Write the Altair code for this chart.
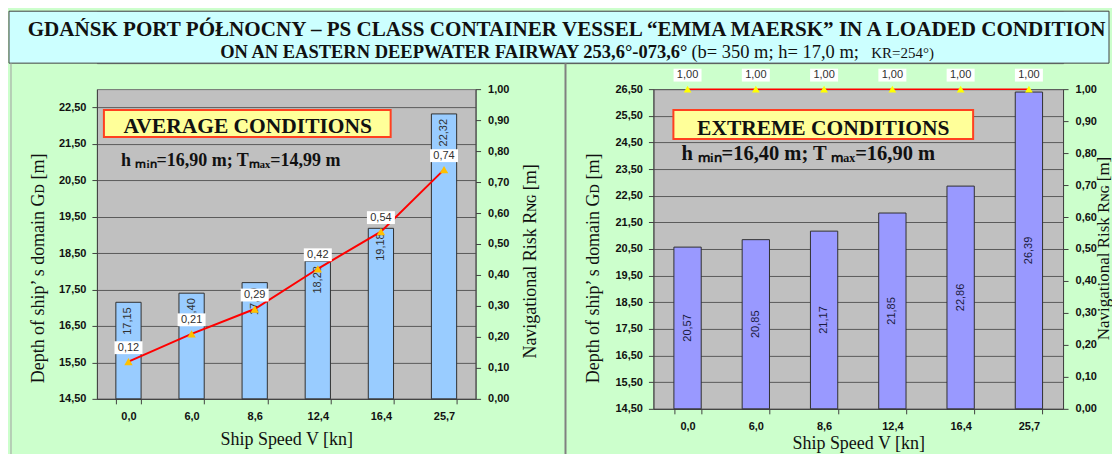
import altair as alt
import pandas as pd

# ---------------- data ----------------
speeds = ["0,0", "6,0", "8,6", "12,4", "16,4", "25,7"]
avg_depth = [17.15, 17.40, 17.69, 18.28, 19.18, 22.32]
avg_risk = [0.12, 0.21, 0.29, 0.42, 0.54, 0.74]
ext_depth = [20.57, 20.85, 21.17, 21.85, 22.86, 26.39]
ext_risk = [1.00, 1.00, 1.00, 1.00, 1.00, 1.00]

left_depth_domain = [14.5, 23.0]
right_depth_domain = [14.5, 26.5]
left_depth_ticks = [14.5, 15.5, 16.5, 17.5, 18.5, 19.5, 20.5, 21.5, 22.5]
right_depth_ticks = [14.5, 15.5, 16.5, 17.5, 18.5, 19.5, 20.5, 21.5, 22.5,
                     23.5, 24.5, 25.5, 26.5]
risk_ticks = [0.0, 0.1, 0.2, 0.3, 0.4, 0.5, 0.6, 0.7, 0.8, 0.9, 1.0]

title_line1 = "GDAŃSK PORT PÓŁNOCNY – PS CLASS CONTAINER VESSEL “EMMA MAERSK” IN A LOADED CONDITION"
title_line2a = "ON AN EASTERN DEEPWATER FAIRWAY 253,6°-073,6°"
title_line2b = "(b= 350 m; h= 17,0 m;"
title_line2c = "KR=254°)"

left_box_title = "AVERAGE CONDITIONS"
left_box_sub = "h ₘᵢₙ=16,90 m; Tₘₐₓ=14,99 m"
right_box_title = "EXTREME CONDITIONS"
right_box_sub = "h ₘᵢₙ=16,40 m; T ₘₐₓ=16,90 m"

x_title = "Ship Speed V [kn]"
y_title = "Depth of ship’ s domain Gᴅ [m]"
y2_title = "Navigational Risk Rɴɢ [m]"

SERIF = "Liberation Serif"
SANS = "Liberation Sans"
COMMA2 = "replace(format(datum.value, '.2f'), '.', ',')"
BOX_PATH = "M-1,-1.46L1,-1.46L1,-0.54L-1,-0.54Z"


def fmt2(v):
    return f"{v:.2f}".replace(".", ",")


one = pd.DataFrame({"k": [0]})


def make_panel(depth, risk, ydom, yticks, w, h, bar_color, tri_color, tri_size,
               line_w, centered, ytx, yty, y2tx, y2ty, y2size, xty,
               box, box_title, title_x, sub, sub_x, sub_y, sub_size,
               rule_x, rule_color, rule_w):
    df = pd.DataFrame({
        "speed": speeds,
        "depth": depth,
        "base": [ydom[0]] * len(depth),
        "risk": risk,
        "depth_mid": [(ydom[0] + v) / 2 for v in depth],
        "depth_lbl": [fmt2(v) for v in depth],
        "risk_lbl": [fmt2(v) for v in risk],
    })
    x = alt.X("speed:N", sort=speeds,
              scale=alt.Scale(paddingInner=0.6, paddingOuter=0.3),
              axis=alt.Axis(title=x_title, labelAngle=0, tickBand="extent",
                            grid=False, labelPadding=7, titleY=xty,
                            titleBaseline="alphabetic"))
    depth_axis = alt.Axis(values=yticks, tickCount=len(yticks), labelExpr=COMMA2,
                          title=y_title, titleAngle=270, titleX=ytx, titleY=yty,
                          titleAlign="center", titleBaseline="middle",
                          grid=True, labelPadding=6, labelOverlap=False)
    depth_scale = alt.Scale(domain=ydom, nice=False, zero=False)
    yd = alt.Y("depth:Q", scale=depth_scale, axis=depth_axis)
    yr = alt.Y("risk:Q",
               scale=alt.Scale(domain=[0, 1], nice=False),
               axis=alt.Axis(orient="right", values=risk_ticks,
                             tickCount=len(risk_ticks), labelExpr=COMMA2,
                             title=y2_title, titleAngle=270, titleX=y2tx,
                             titleY=y2ty, titleAlign="center",
                             titleFontSize=y2size,
                             titleBaseline="middle", grid=False, labelPadding=7,
                             labelOverlap=False))
    base = alt.Chart(df)
    bars = base.mark_bar(color=bar_color, stroke="#303030", strokeWidth=1).encode(
        x=x, y=yd, y2="base:Q")
    if centered:
        blabels = base.mark_text(angle=270, align="center", baseline="middle",
                                 font=SANS, fontSize=11, color="#1a1a40").encode(
            x=x, y=alt.Y("depth_mid:Q", scale=depth_scale, axis=depth_axis),
            text="depth_lbl:N")
    else:
        blabels = base.mark_text(angle=270, align="right", baseline="middle",
                                 yOffset=5, font=SANS, fontSize=11,
                                 color="#303030").encode(
            x=x, y=yd, text="depth_lbl:N")

    rect = alt.Chart(one).mark_rect(fill="#FFFF99", stroke="#FF4020",
                                    strokeWidth=2).encode(
        x=alt.value(box[0]), x2=alt.value(box[1]),
        y=alt.value(box[2]), y2=alt.value(box[3]))
    rtxt = alt.Chart(one).mark_text(text=box_title, font=SERIF, fontSize=21.5,
                                    fontWeight="bold", align="center",
                                    baseline="alphabetic", color="#111").encode(
        x=alt.value(title_x), y=alt.value(box[3] - 4))
    stxt = alt.Chart(one).mark_text(text=sub, font=SERIF, fontSize=sub_size,
                                    fontWeight="bold", align="left",
                                    baseline="alphabetic", color="#111").encode(
        x=alt.value(sub_x), y=alt.value(sub_y))
    sep = alt.Chart(one).mark_rule(color=rule_color, strokeWidth=rule_w).encode(
        x=alt.value(rule_x), y=alt.value(-26), y2=alt.value(366))

    left_layers = alt.layer(bars, blabels, rect, rtxt, stxt, sep)

    line = base.mark_line(color="#FF0000", strokeWidth=line_w).encode(x=x, y=yr)
    pts = base.mark_point(shape="triangle-up", filled=True, color=tri_color,
                          opacity=1, size=tri_size).encode(x=x, y=yr)
    boxes = base.mark_point(shape=BOX_PATH, filled=True, color="white",
                            opacity=1, size=784).encode(x=x, y=yr)
    rlabels = base.mark_text(dy=-14, baseline="middle", font=SANS, fontSize=11,
                             color="#303030").encode(x=x, y=yr, text="risk_lbl:N")
    right_layers = alt.layer(line, pts, boxes, rlabels)

    return alt.layer(left_layers, right_layers).resolve_scale(
        y="independent").properties(width=w, height=h)


left = make_panel(avg_depth, avg_risk, left_depth_domain, left_depth_ticks,
                  379, 310, "#99CCFF", "#FFC000", 70, 2, False,
                  -58, 179, 55, 172, 18, 46,
                  (7, 294, 21, 48), left_box_title, 151,
                  left_box_sub, 24, 77, 18,
                  -86, "#A0A0A0", 1)

right = make_panel(ext_depth, ext_risk, right_depth_domain, right_depth_ticks,
                   410, 320, "#9999FF", "#FFFF00", 60, 1.5, True,
                   -60, 179, 40, 159, 17, 40,
                   (20, 320, 21, 50), right_box_title, 170,
                   right_box_sub, 28, 71, 20.5,
                   -88, "#808080", 2)

tbox = alt.Chart(one).mark_rect(fill="#CCFFFF", stroke="#404040",
                                strokeWidth=1).encode(
    x=alt.value(-88), x2=alt.value(1013), y=alt.value(0), y2=alt.value(52))
t1 = alt.Chart(one).mark_text(text=title_line1, font=SERIF, fontSize=21.1,
                              fontWeight="bold", align="center",
                              baseline="alphabetic", color="#111").encode(
    x=alt.value(470), y=alt.value(25))
t2a = alt.Chart(one).mark_text(text=title_line2a, font=SERIF, fontSize=18.5,
                               fontWeight="bold", align="right",
                               baseline="alphabetic", color="#111").encode(
    x=alt.value(591), y=alt.value(47))
t2b = alt.Chart(one).mark_text(text=title_line2b, font=SERIF, fontSize=18.5,
                               align="left", baseline="alphabetic",
                               color="#111").encode(
    x=alt.value(595), y=alt.value(47))
t2c = alt.Chart(one).mark_text(text=title_line2c, font=SERIF, fontSize=15,
                               align="left", baseline="alphabetic",
                               color="#111").encode(
    x=alt.value(775), y=alt.value(47))
title_chart = alt.layer(tbox, t1, t2a, t2b, t2c).properties(width=967, height=52)

chart = alt.vconcat(
    title_chart,
    alt.hconcat(left, right, spacing=178, bounds="flush"),
    spacing=26, bounds="flush",
).properties(
    background="#CCFFCC",
    padding={"left": 0, "top": 2, "right": 0, "bottom": 0},
).configure_view(
    fill="#C0C0C0", stroke="#707070", strokeWidth=1
).configure_axis(
    labelFont=SANS, labelFontSize=11, labelFontWeight="bold", labelColor="#111",
    titleFont=SERIF, titleFontSize=18, titleFontWeight="normal", titleColor="#111",
    domainColor="#404040", tickColor="#404040", gridColor="#5a5a5a", tickSize=5,
    gridOpacity=1,
)

chart.save("out.html", embed_options={"renderer": "svg", "actions": False})
